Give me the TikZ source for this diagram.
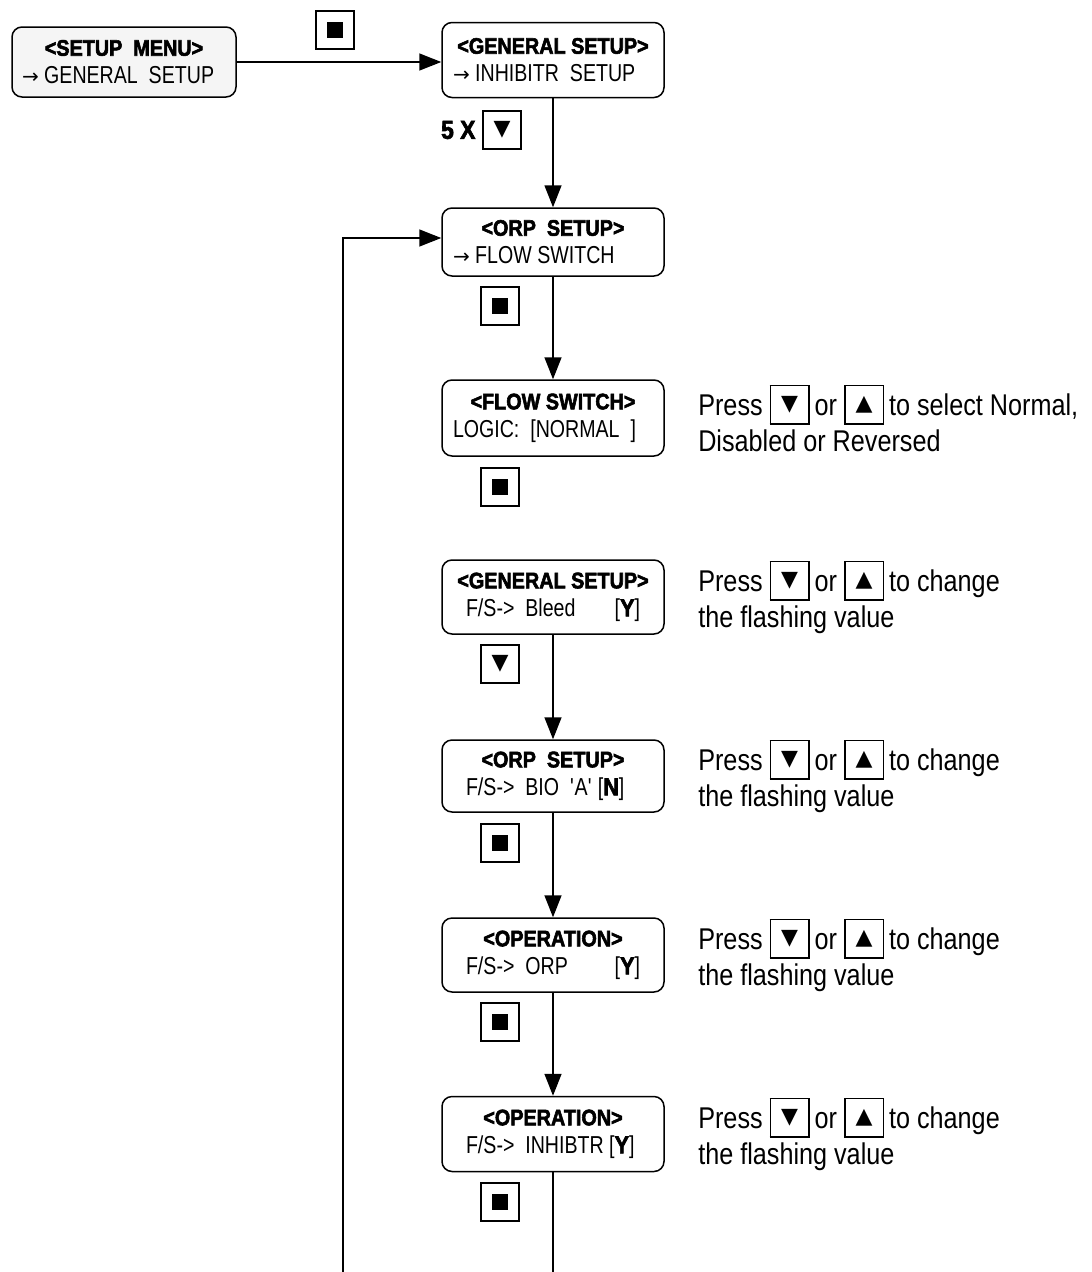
\documentclass[tikz,border=0pt]{standalone}
\usepackage{fontspec}
\setmainfont{Liberation Sans}
\newfontfamily\notefont{Liberation Sans}[FakeStretch=0.84]
\newfontfamily\linefont{Liberation Sans}[FakeStretch=0.8]
\newfontfamily\titlefont{Liberation Sans Bold}[FakeStretch=0.88,FakeBold=2.5]
\newfontfamily\symfont{DejaVu Sans}
\usetikzlibrary{arrows.meta,positioning}

\newcommand{\ttl}[1]{{\titlefont\fontsize{22.5}{22.5}\selectfont #1}}
\newcommand{\flag}[1]{[{\titlefont #1}]}
\newcommand{\arr}{{\symfont\fontsize{20}{20}\selectfont →}}
\newcommand{\tri}[1]{{\symfont\fontsize{22}{22}\selectfont #1}}
\newcommand{\lline}[2][200pt]{\makebox[#1][l]{#2}}
% framed key inside the help texts
\newcommand{\keyin}[1]{\raisebox{-8pt}{\setlength{\fboxrule}{1.5pt}\setlength{\fboxsep}{0pt}\fbox{\vbox to 37pt{\vss\hbox to 37pt{\hss\tri{#1}\hss}\vss}}}}

\begin{document}
\begin{tikzpicture}[x=1pt, y=-1pt,
    screen/.style={draw, line width=1.5pt, rounded corners=10pt, minimum width=222pt, minimum height=72pt,
                   inner sep=2pt, align=center, font=\linefont\fontsize{24.5}{28}\selectfont},
    btn/.style={draw, line width=2pt, minimum size=38pt, inner sep=0pt},
    note/.style={align=left, font=\notefont\fontsize{30}{36}\selectfont},
    flow/.style={line width=1.5pt, -{Triangle[length=22pt,width=17pt]}}]
  \useasboundingbox (0,0) rectangle (1092,1272);

  % screens
  \node[screen, fill=gray!8, minimum width=224pt, minimum height=70pt] (setup) at (124,62) {\ttl{<SETUP~~MENU>}\\\lline[204pt]{\arr~GENERAL~~SETUP}};
  \node[screen, minimum height=75pt] (general) at (553,60) {\ttl{<GENERAL SETUP>}\\\lline{\arr~INHIBITR~~SETUP}};
  \node[screen, minimum height=68pt] (orp) at (553,242) {\ttl{<ORP~~SETUP>}\\\lline{\arr~FLOW SWITCH}};
  \node[screen, minimum height=76pt] (flowsw) at (553,418) {\ttl{<FLOW SWITCH>}\\\lline{LOGIC:~~[NORMAL~~]}};
  \node[screen, minimum height=74pt] (bleed) at (553,597) {\ttl{<GENERAL SETUP>}\\\lline[174pt]{F/S->~~Bleed\hfill\flag{Y}}};
  \node[screen] (bio) at (553,776) {\ttl{<ORP~~SETUP>}\\\lline[174pt]{F/S->~~BIO~~\textquotesingle A\textquotesingle~\flag{N}}};
  \node[screen, minimum height=74pt] (orpflag) at (553,955) {\ttl{<OPERATION>}\\\lline[174pt]{F/S->~~ORP\hfill\flag{Y}}};
  \node[screen, minimum height=75pt] (inhib) at (553,1134) {\ttl{<OPERATION>}\\\lline[174pt]{F/S->~~INHIBTR~\flag{Y}}};

  % keys
  \node[btn] (kenter) at (335,30) {\rule{16pt}{16pt}};
  \node[btn] (kdown5) at (502,130) {\tri{▼}};
  \node[left=3pt of kdown5] (fivex) {{\titlefont\fontsize{26}{26}\selectfont 5~X}};
  \node[btn] (korp) at (500,306) {\rule{16pt}{16pt}};
  \node[btn] (kflow) at (500,487) {\rule{16pt}{16pt}};
  \node[btn] (kbleed) at (500,664) {\tri{▼}};
  \node[btn] (kbio) at (500,843) {\rule{16pt}{16pt}};
  \node[btn] (korpflag) at (500,1022) {\rule{16pt}{16pt}};
  \node[btn] (kinhib) at (500,1202) {\rule{16pt}{16pt}};

  % help texts
  \node[note, right=30pt of flowsw] (nflow) {Press \keyin{▼}\,or \keyin{▲}\,to select Normal,\\Disabled or Reversed};
  \node[note, right=30pt of bleed] (nbleed) {Press \keyin{▼}\,or \keyin{▲}\,to change\\the flashing value};
  \node[note, right=30pt of bio] (nbio) {Press \keyin{▼}\,or \keyin{▲}\,to change\\the flashing value};
  \node[note, right=30pt of orpflag] (norpflag) {Press \keyin{▼}\,or \keyin{▲}\,to change\\the flashing value};
  \node[note, right=30pt of inhib] (ninhib) {Press \keyin{▼}\,or \keyin{▲}\,to change\\the flashing value};

  \coordinate (loopend) at (343,1272);
  \coordinate (tailend) at (553,1272);

  % connectors
  \draw[flow] (setup.east) -- (setup.east -| general.west);
  \draw[flow] (general) -- (orp);
  \draw[flow] (orp) -- (flowsw);
  \draw[flow] (bleed) -- (bio);
  \draw[flow] (bio) -- (orpflag);
  \draw[flow] (orpflag) -- (inhib);
  \draw[line width=1.5pt] (inhib) -- (tailend);
  \draw[flow] (loopend) |- ([yshift=4pt]orp.west);
\end{tikzpicture}
\end{document}
